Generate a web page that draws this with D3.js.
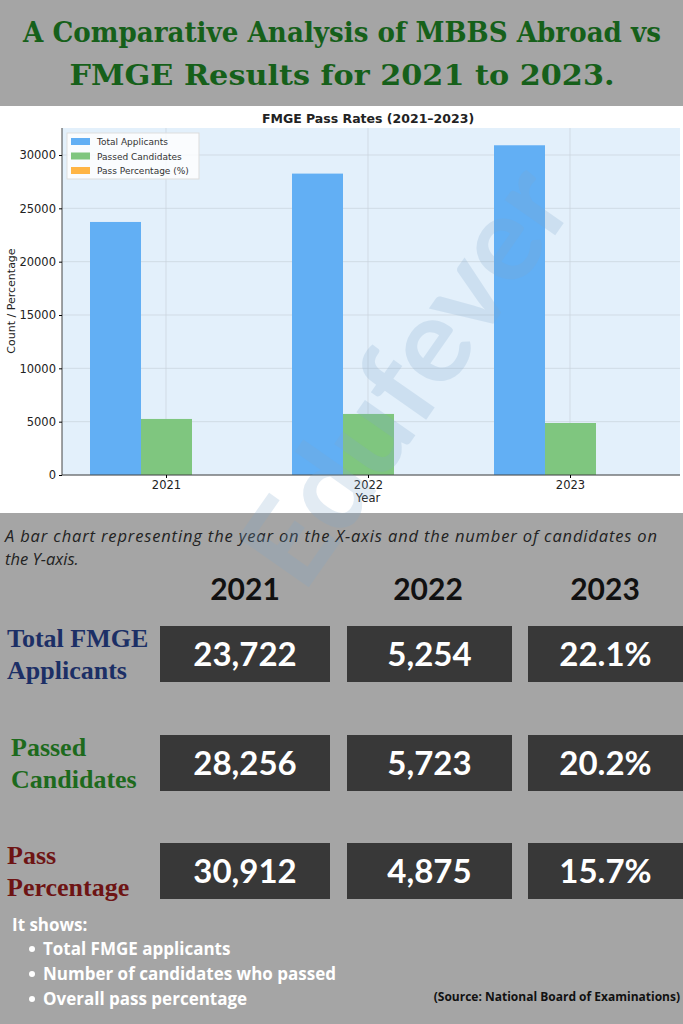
<!DOCTYPE html>
<html><head><meta charset="utf-8">
<script src="https://cdn.jsdelivr.net/npm/d3@7"></script>
<style>body{margin:0;background:#a5a5a5}svg{display:block}</style></head>
<body><svg id="c" width="683" height="1024"></svg>
<script>
const years=["2021","2022","2023"];
const applicants=[23722,28256,30912];
const passed=[5254,5723,4875];
const passPct=[22.1,20.2,15.7];
const yTicks=[0,5000,10000,15000,20000,25000,30000];
const legendLabels=["Total Applicants","Passed Candidates","Pass Percentage (%)"];
const rowLabels=[["Total FMGE","Applicants"],["Passed","Candidates"],["Pass","Percentage"]];
const bullets=["Total FMGE applicants","Number of candidates who passed","Overall pass percentage"];

const svg=d3.select("#c");
svg.append("rect").attr("width",683).attr("height",1024).attr("fill","#a5a5a5");
const tl=["A Comparative Analysis of MBBS Abroad vs","FMGE Results for 2021 to 2023."];
svg.selectAll(".tt").data(tl).join("text").attr("x",342).attr("y",(d,i)=>42+i*43)
 .attr("text-anchor","middle").attr("font-family","DejaVu Serif").attr("font-weight","bold")
 .attr("font-size",27).attr("fill","#16601a").attr("textLength",(d,i)=>i?545:638).attr("lengthAdjust","spacingAndGlyphs").text(d=>d);
svg.append("rect").attr("x",0).attr("y",106).attr("width",683).attr("height",407).attr("fill","#fff");
const m={l:62,r:680,t:128,b:475};
const y=d3.scaleLinear().domain([0,30000]).range([475,155]);
const x0=d3.scalePoint().domain(years).range([166,570]);
const g=svg.append("g");
g.append("rect").attr("x",m.l).attr("y",m.t).attr("width",m.r-m.l).attr("height",m.b-m.t).attr("fill","#e3f0fb");
g.selectAll(".gy").data(yTicks).join("line").attr("x1",m.l).attr("x2",m.r).attr("y1",d=>y(d)).attr("y2",d=>y(d)).attr("stroke","#c9d3dc").attr("stroke-width",0.7);
g.selectAll(".gx").data(years).join("line").attr("y1",m.t).attr("y2",m.b).attr("x1",d=>x0(d)).attr("x2",d=>x0(d)).attr("stroke","#c9d3dc").attr("stroke-width",0.7);
const bw=51;
g.selectAll(".ba").data(applicants).join("rect").attr("x",(d,i)=>x0(years[i])-76).attr("width",bw).attr("y",d=>y(d)).attr("height",d=>475-y(d)).attr("fill","#62aff4");
g.selectAll(".bp").data(passed).join("rect").attr("x",(d,i)=>x0(years[i])-25).attr("width",bw).attr("y",d=>y(d)).attr("height",d=>475-y(d)).attr("fill","#7fc67f");
g.append("g").attr("transform","translate(0,475)").call(d3.axisBottom(x0).tickSize(3)).call(a=>{a.select(".domain").attr("d","M62,0H680").attr("stroke","#444");a.selectAll("text").attr("font-size",11.5).attr("font-family","DejaVu Sans").attr("fill","#222")});
g.append("g").attr("transform","translate(62,0)").call(d3.axisLeft(y).tickValues(yTicks).tickSize(3).tickFormat(d3.format("d"))).call(a=>{a.select(".domain").attr("d","M0,128V475").attr("stroke","#444");a.selectAll("text").attr("font-size",11.5).attr("font-family","DejaVu Sans").attr("fill","#222")});
svg.append("text").attr("x",368).attr("y",123).attr("text-anchor","middle").attr("font-family","DejaVu Sans").attr("font-weight","bold").attr("font-size",12.5).attr("fill","#222").text("FMGE Pass Rates (2021–2023)");
svg.append("text").attr("x",368).attr("y",502).attr("text-anchor","middle").attr("font-family","DejaVu Sans").attr("font-size",11.5).attr("fill","#222").text("Year");
svg.append("text").attr("transform","translate(15,301) rotate(-90)").attr("text-anchor","middle").attr("font-family","DejaVu Sans").attr("font-size",11).attr("fill","#222").text("Count / Percentage");
const lg=svg.append("g");
lg.append("rect").attr("x",67).attr("y",133).attr("width",132).attr("height",46).attr("fill","#fff").attr("fill-opacity",0.8).attr("stroke","#ddd");
const lc=["#62aff4","#7fc67f","#ffb545"];
legendLabels.forEach((l,i)=>{lg.append("rect").attr("x",71).attr("y",138+i*14.5).attr("width",19).attr("height",7).attr("fill",lc[i]);
 lg.append("text").attr("x",97).attr("y",145+i*14.5).attr("font-family","DejaVu Sans").attr("font-size",9).attr("fill","#333").text(l);});
["A bar chart representing the year on the X-axis and the number of candidates on","the Y-axis."].forEach((t,i)=>svg.append("text").attr("x",5).attr("y",542+i*23).attr("font-family","Open Sans").attr("font-style","italic").attr("font-size",16.5).attr("fill","#222").attr("textLength",i?null:652).text(t));
svg.append("text").attr("transform","translate(440,400) rotate(-55)").attr("text-anchor","middle").attr("font-family","Lato").attr("font-weight","bold").attr("font-size",120).attr("fill","#7fa7cc").attr("opacity",0.22).text("Edufever");
const colX=[245,428,605], boxX=[[160,330],[347,512],[528,683]], rowY=[626,735,843];
svg.selectAll(".yh").data(years).join("text").attr("x",(d,i)=>colX[i]).attr("y",600).attr("text-anchor","middle").attr("font-family","Lato").attr("font-weight","bold").attr("font-size",30).attr("fill","#111").text(d=>d);
const metrics=[applicants.map(d3.format(",")),passed.map(d3.format(",")),passPct.map(d=>d.toFixed(1)+"%")];
const rowCol=["#1c2f66","#1d6a1d","#6e1414"];
rowY.forEach((ry,r)=>{
 rowLabels[r].forEach((t,k)=>svg.append("text").attr("x",r==1?11:7).attr("y",ry+21+k*32).attr("font-family","Liberation Serif").attr("font-weight","bold").attr("font-size",26).attr("fill",rowCol[r]).text(t));
 boxX.forEach((b,c)=>{svg.append("rect").attr("x",b[0]).attr("y",ry).attr("width",b[1]-b[0]).attr("height",56).attr("fill","#383838");
  svg.append("text").attr("x",(b[0]+b[1])/2).attr("y",ry+40).attr("text-anchor","middle").attr("font-family","Lato").attr("font-weight","bold").attr("font-size",33).attr("fill","#fff").text(metrics[c][r]);});
});
svg.append("text").attr("x",12).attr("y",931).attr("font-family","Open Sans").attr("font-weight","bold").attr("font-size",17).attr("fill","#fff").text("It shows:");
bullets.forEach((b,i)=>{svg.append("circle").attr("cx",32).attr("cy",949+i*25).attr("r",3).attr("fill","#fff");
 svg.append("text").attr("x",43).attr("y",955+i*25).attr("font-family","Open Sans").attr("font-weight","bold").attr("font-size",17).attr("fill","#fff").text(b);});
svg.append("text").attr("x",680).attr("y",1001).attr("text-anchor","end").attr("font-family","Open Sans").attr("font-weight","bold").attr("font-size",12).attr("fill","#111").text("(Source: National Board of Examinations)");
</script></body></html>
